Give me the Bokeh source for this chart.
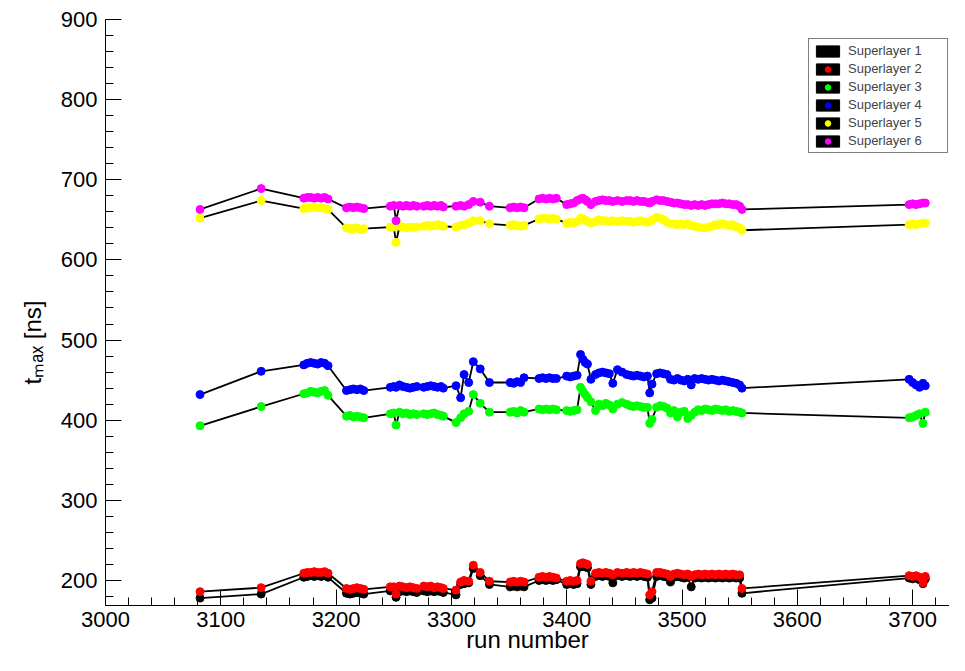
import math
from bokeh.plotting import figure
from bokeh.models import Range1d, SingleIntervalTicker, Legend, LegendItem, ColumnDataSource
from bokeh.embed import file_html
from bokeh.resources import INLINE

# ---------------- data ----------------
runs = [3082,
        3135,
        3172, 3175, 3178, 3181, 3184, 3187, 3190, 3193,
        3209, 3212, 3215, 3218, 3221, 3224,
        3247, 3250, 3252, 3255, 3258, 3261, 3264, 3267, 3270,
        3276, 3279, 3282, 3285, 3288, 3291, 3293,
        3304, 3308, 3311, 3315, 3319, 3325, 3333,
        3351, 3354, 3357, 3360, 3363,
        3376, 3379, 3382, 3385, 3388, 3391,
        3400, 3403, 3406, 3409, 3412, 3414, 3416, 3418, 3421, 3425,
        3428, 3431, 3434, 3437, 3440, 3444, 3448, 3452, 3455, 3458,
        3461, 3464, 3467, 3470, 3472, 3474, 3478, 3481, 3484, 3487,
        3490, 3493, 3496, 3499, 3502, 3505, 3508, 3511, 3514, 3517,
        3520, 3523, 3526, 3529, 3532, 3535, 3538, 3541, 3544, 3547,
        3550, 3552,
        3697, 3700, 3703, 3706, 3709, 3711]

sl1 = [178,
       183,
       204, 205, 206, 205, 206, 205, 206, 204,
       184, 183, 184, 185, 184, 183,
       187, 187, 179, 186, 187, 186, 187, 186, 185,
       187, 186, 187, 186, 187, 186, 185,
       182, 195, 196, 197, 215, 206, 195,
       192, 193, 192, 193, 192,
       200, 201, 200, 201, 200, 201,
       195, 196, 195, 196, 217, 218, 217, 216, 195, 205,
       206, 205, 206, 205, 197, 206, 205, 206, 205, 206,
       205, 206, 205, 204, 176, 178, 205, 206, 205, 204,
       198, 204, 205, 204, 203, 204, 192, 203, 204, 203,
       204, 203, 204, 203, 204, 203, 204, 203, 204, 203,
       203, 184,
       203, 202, 203, 201, 196, 202]

sl2 = [186,
       191,
       209, 210, 210, 211, 210, 210, 211, 209,
       190, 189, 190, 191, 190, 189,
       192, 192, 183, 193, 192, 191, 192, 191, 190,
       193, 192, 193, 191, 192, 191, 190,
       188, 198, 200, 199, 219, 210, 199,
       198, 199, 198, 199, 198,
       204, 205, 204, 205, 204, 203,
       199, 200, 199, 200, 221, 222, 221, 220, 199, 209,
       210, 209, 210, 209, 207, 210, 209, 210, 209, 210,
       209, 210, 209, 208, 182, 186, 210, 210, 209, 208,
       205, 208, 209, 208, 207, 208, 205, 207, 208, 207,
       208, 207, 208, 207, 208, 207, 208, 207, 208, 207,
       207, 190,
       206, 205, 206, 204, 197, 205]

sl3 = [393,
       417,
       433, 434, 436, 435, 434, 436, 437, 431,
       405, 406, 404, 405, 404, 403,
       408, 409, 394, 410, 408, 409, 407, 408, 407,
       408, 407, 408, 409, 407, 406, 405,
       397, 403, 408, 411, 432, 421, 410,
       410, 411, 409, 412, 410,
       414, 413, 414, 413, 414, 413,
       412, 411, 412, 413, 441, 436, 432, 428, 423, 412,
       420, 418, 421, 419, 414, 420, 422, 420, 418, 417,
       418, 417, 416, 416, 396, 401, 416, 418, 417, 415,
       409, 412, 404, 410, 411, 402, 406, 410, 413, 412,
       414, 413, 412, 414, 413, 412, 413, 411, 412, 411,
       410, 409,
       403, 404, 406, 408, 396, 410]

sl4 = [432,
       461,
       469, 471, 472, 471, 470, 472, 471, 468,
       437, 438, 439, 438, 439, 437,
       441, 442, 441, 444, 442, 441, 440, 441, 442,
       441, 442, 443, 442, 441, 442, 440,
       443, 428, 457, 447, 473, 464, 447,
       447, 446, 448, 447, 453,
       452, 453, 452, 453, 452, 452,
       455, 454, 455, 456, 482, 476, 472, 470, 451, 457,
       459, 460, 459, 458, 446, 463, 460, 457, 456, 455,
       456, 455, 454, 455, 434, 445, 458, 459, 458, 457,
       451, 450, 452, 450, 449, 451, 444, 452, 451, 452,
       451, 450, 451, 450, 449, 450, 449, 448, 447, 446,
       444, 440,
       451, 447, 444, 441, 446, 443]

sl5 = [652,
       674,
       664, 665, 665, 666, 665, 665, 664, 663,
       640, 639, 639, 640, 638, 639,
       641, 641, 622, 642, 641, 640, 641, 640, 641,
       642, 643, 642, 643, 644, 643, 642,
       641, 643, 644, 646, 649, 649, 645,
       643, 644, 643, 642, 643,
       651, 652, 652, 651, 652, 651,
       646, 647, 646, 648, 652, 651, 650, 648, 646, 648,
       650, 649, 649, 648, 649, 648, 649, 648, 648, 647,
       648, 649, 648, 647, 648, 650, 653, 652, 650, 647,
       645, 645, 644, 645, 644, 645, 643, 642, 641, 640,
       640, 641, 642, 644, 644, 645, 644, 643, 644, 641,
       640, 637,
       644, 645, 644, 645, 646, 646]

sl6 = [663,
       689,
       677, 678, 678, 677, 678, 677, 678, 676,
       665, 666, 665, 666, 665, 664,
       667, 668, 649, 668, 667, 668, 667, 668, 667,
       667, 668, 667, 668, 667, 668, 666,
       667, 668, 667, 669, 673, 672, 667,
       665, 666, 665, 666, 665,
       676, 677, 676, 677, 676, 677,
       669, 670, 671, 674, 676, 677, 675, 673, 669, 673,
       674, 675, 674, 674, 673, 674, 673, 674, 674, 673,
       674, 673, 673, 672, 671, 673, 675, 674, 674, 673,
       672, 671, 671, 670, 669, 669, 668, 669, 668, 669,
       668, 669, 670, 670, 670, 671, 670, 670, 669, 669,
       667, 663,
       669, 670, 669, 670, 671, 671]

series_names = ["Superlayer 1", "Superlayer 2", "Superlayer 3",
                "Superlayer 4", "Superlayer 5", "Superlayer 6"]
series_colors = ["#000000", "#ff0000", "#00ff00", "#0000ff", "#ffff00", "#ff00ff"]
series_values = [sl1, sl2, sl3, sl4, sl5, sl6]

x_start, x_end = 3000, 3732
y_start, y_end = 168.75, 900
tick_interval = 100

x_title = "run number"
y_title = "t\u2098\u2090\u2093 [ns]"

FONT = "Liberation Sans"

# ---------------- figure ----------------
p = figure(width=949, height=655,
           x_range=Range1d(x_start, x_end), y_range=Range1d(y_start, y_end),
           output_backend="svg", toolbar_location=None,
           min_border_left=105, min_border_right=0,
           min_border_top=19, min_border_bottom=0,
           background_fill_color="white", border_fill_color="white")
p.outline_line_color = None
p.xgrid.grid_line_color = None
p.ygrid.grid_line_color = None

for ax in (p.xaxis[0], p.yaxis[0]):
    ax.ticker = SingleIntervalTicker(interval=tick_interval, num_minor_ticks=5)
    ax.axis_line_color = "black"
    ax.axis_line_width = 1
    ax.major_tick_line_color = "black"
    ax.minor_tick_line_color = "black"
    ax.major_tick_in = 16
    ax.major_tick_out = 0
    ax.minor_tick_in = 8
    ax.minor_tick_out = 0
    ax.major_label_text_font = FONT
    ax.major_label_text_font_size = "22px"
    ax.major_label_text_color = "black"
    ax.axis_label_text_font = FONT
    ax.axis_label_text_font_size = "24px"
    ax.axis_label_text_font_style = "normal"
    ax.axis_label_text_color = "black"

p.xaxis.major_label_standoff = 6
p.xaxis.axis_label = x_title
p.xaxis.axis_label_standoff = -4
p.yaxis.major_label_standoff = 8
p.yaxis.axis_label = y_title + "\u00a0" * 9
p.yaxis.axis_label_standoff = 12

# ---------------- data glyphs ----------------
for vals, col in zip(series_values, series_colors):
    src = ColumnDataSource(dict(x=runs, y=vals))
    p.line("x", "y", source=src, line_color="black", line_width=1.8)
    p.scatter("x", "y", source=src, marker="circle", size=8,
              fill_color=col, line_color=col)

# legend-only glyphs, placed outside the visible ranges
box = p.quad(left=[0], right=[1], top=[0], bottom=[-1],
             fill_color="black", line_color="black")
items = []
for n, col in zip(series_names, series_colors):
    lr = p.scatter(x=[0], y=[0], marker="circle", size=5, fill_color=col, line_color=col)
    items.append(LegendItem(label=n, renderers=[box, lr]))

legend = Legend(items=items, location=(703, 452),
                glyph_width=29, glyph_height=14, label_height=13,
                spacing=3, padding=4, margin=0, label_standoff=6, label_width=95,
                label_text_font=FONT, label_text_font_size="13px",
                border_line_color="black", border_line_width=1,
                background_fill_color="white", background_fill_alpha=1)
p.add_layout(legend)

open("out.html", "w").write(file_html(p, INLINE))
